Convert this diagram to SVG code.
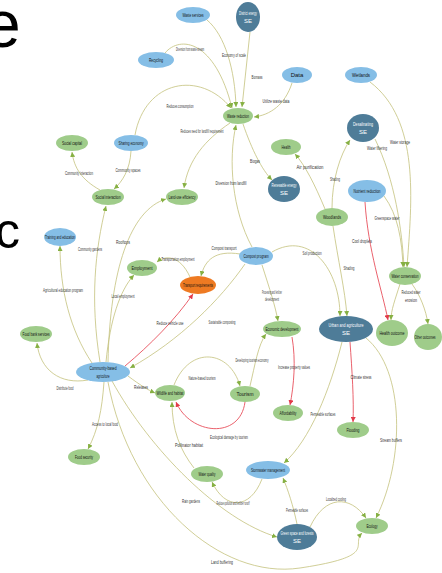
<svg xmlns="http://www.w3.org/2000/svg" width="442" height="573" viewBox="0 0 442 573">
<defs>
<marker id="ag" markerUnits="userSpaceOnUse" markerWidth="5" markerHeight="5" refX="5" refY="2.5" orient="auto"><path d="M0,0 L5,2.5 L0,5 z" fill="#86b043"/></marker>
<marker id="ar" markerUnits="userSpaceOnUse" markerWidth="5" markerHeight="5" refX="5" refY="2.5" orient="auto"><path d="M0,0 L5,2.5 L0,5 z" fill="#e23b4a"/></marker>
<style>
.e{fill:none;stroke:#c4c27c;stroke-width:0.8;marker-end:url(#ag)}
.r{fill:none;stroke:#e8505c;stroke-width:0.9;marker-end:url(#ar)}
.lb{fill:#85bee6}
.gr{fill:#9fcc8a}
.dk{fill:#4e7c98}
.or{fill:#ee7a22}
text{font-family:"Liberation Sans Narrow","Liberation Sans",Arial,sans-serif}
.t{font-size:6px;fill:#111;text-anchor:middle;dominant-baseline:central}
.tw{font-size:6px;fill:#fff;text-anchor:middle;dominant-baseline:central}
.l{font-size:5.5px;fill:#333;text-anchor:middle;dominant-baseline:central}
.big{font-family:"Liberation Sans",Arial,sans-serif;fill:#000}
</style>
</defs>
<rect width="442" height="573" fill="#fff"/>
<text class="big" x="-16" y="47" font-size="66">e</text>
<text class="big" x="-5" y="248" font-size="50">c</text>

<g id="connectors">
<path class="e" d="M165,53 C180,35 215,40 232,108"/>
<path class="e" d="M207,20 C225,35 235,70 236,107"/>
<path class="e" d="M250,32 L242,107"/>
<path class="e" d="M292,83 C285,105 270,115 254,117"/>
<path class="e" d="M135,135 C145,80 200,70 231,108"/>
<path class="e" d="M230,123 C205,140 188,160 184,188"/>
<path class="e" d="M252,247 C232,210 228,160 236,125"/>
<path class="e" d="M243,124 C252,150 262,170 272,180"/>
<path class="e" d="M131,151 C130,170 122,182 114,189"/>
<path class="e" d="M100,190 C82,180 74,168 72,152"/>
<path class="e" d="M100,362 C90,300 95,250 106,206"/>
<path class="e" d="M108,362 C110,270 130,210 166,199"/>
<path class="e" d="M92,363 C70,330 60,290 60,246"/>
<path class="e" d="M106,362 C110,320 120,290 134,275"/>
<path class="e" d="M88,380 C60,385 40,370 37,343"/>
<path class="e" d="M128,376 C140,385 148,390 155,393"/>
<path class="e" d="M104,382 C102,410 98,430 88,449"/>
<path class="r" d="M125,366 C150,345 175,320 193,294"/>
<path class="e" d="M245,264 C220,300 180,340 130,368"/>
<path class="e" d="M240,254 C215,250 205,260 201,276"/>
<path class="e" d="M190,277 C180,255 165,255 157,262"/>
<path class="e" d="M262,265 C270,290 275,305 278,321"/>
<path class="e" d="M272,252 C310,230 340,270 340,316"/>
<path class="e" d="M333,226 C338,260 345,290 347,316"/>
<path class="e" d="M325,209 C315,185 305,165 295,154"/>
<path class="e" d="M332,208 C332,180 340,155 350,140"/>
<path class="e" d="M375,139 C395,180 402,230 404,267"/>
<path class="e" d="M370,82 C420,120 412,200 407,267"/>
<path class="e" d="M384,196 C398,215 402,240 403,267"/>
<path class="r" d="M365,202 C368,250 382,290 388,320"/>
<path class="e" d="M400,284 C395,300 391,310 391,320"/>
<path class="e" d="M412,284 C420,295 426,310 428,324"/>
<path class="e" d="M250,386 C255,365 258,345 266,334"/>
<path class="e" d="M174,385 C190,345 230,350 240,386"/>
<path class="r" d="M245,402 C240,440 190,435 176,402"/>
<path class="r" d="M292,337 C296,360 294,385 290,405"/>
<path class="r" d="M350,342 C352,370 354,400 353,422"/>
<path class="e" d="M342,342 C330,390 310,440 284,463"/>
<path class="e" d="M366,338 C405,370 405,460 376,518"/>
<path class="e" d="M297,524 C293,505 288,490 283,478"/>
<path class="e" d="M310,527 C325,495 350,495 366,518"/>
<path class="e" d="M262,479 C250,510 225,510 212,482"/>
<path class="e" d="M194,468 C180,450 172,430 172,402"/>
<path class="e" d="M112,381 C150,450 220,520 277,537"/>
<path class="e" d="M108,382 C130,500 220,580 300,568 S350,545 362,533"/>
</g>

<g id="edge-labels">
<text class="l" x="190" y="49" textLength="28" lengthAdjust="spacingAndGlyphs">Diversion from waste stream</text>
<text class="l" x="234" y="55" textLength="24" lengthAdjust="spacingAndGlyphs">Economy of scale</text>
<text class="l" x="257" y="77" textLength="11" lengthAdjust="spacingAndGlyphs">Biomass</text>
<text class="l" x="180" y="106" textLength="27" lengthAdjust="spacingAndGlyphs">Reduces consumption</text>
<text class="l" x="276" y="101" textLength="27" lengthAdjust="spacingAndGlyphs">Utilize waste data</text>
<text class="l" x="202" y="131" textLength="43" lengthAdjust="spacingAndGlyphs">Reduces need for landfill requirement</text>
<text class="l" x="400" y="142" textLength="20" lengthAdjust="spacingAndGlyphs">Water storage</text>
<text class="l" x="79" y="173" textLength="28" lengthAdjust="spacingAndGlyphs">Community interaction</text>
<text class="l" x="128" y="170" textLength="25" lengthAdjust="spacingAndGlyphs">Community spaces</text>
<text class="l" x="90" y="249" textLength="24" lengthAdjust="spacingAndGlyphs">Community gardens</text>
<text class="l" x="123" y="242" textLength="14" lengthAdjust="spacingAndGlyphs">Rooftops</text>
<text class="l" x="255" y="161" textLength="10" lengthAdjust="spacingAndGlyphs">Biogas</text>
<text class="l" x="231" y="183" textLength="31" lengthAdjust="spacingAndGlyphs">Diversion from landfill</text>
<text class="l" x="224" y="248" textLength="25" lengthAdjust="spacingAndGlyphs">Compost transport</text>
<text class="l" x="178" y="259" textLength="33" lengthAdjust="spacingAndGlyphs">Transportation employment</text>
<text class="l" x="310" y="167" textLength="27" lengthAdjust="spacingAndGlyphs">Air purification</text>
<text class="l" x="335" y="179" textLength="10" lengthAdjust="spacingAndGlyphs">Shading</text>
<text class="l" x="377" y="148" textLength="20" lengthAdjust="spacingAndGlyphs">Water filtering</text>
<text class="l" x="387" y="218" textLength="25" lengthAdjust="spacingAndGlyphs">Greenspace water</text>
<text class="l" x="362" y="241" textLength="20" lengthAdjust="spacingAndGlyphs">Cool droplets</text>
<text class="l" x="312" y="253" textLength="19" lengthAdjust="spacingAndGlyphs">Soil production</text>
<text class="l" x="349" y="268" textLength="11" lengthAdjust="spacingAndGlyphs">Shading</text>
<text class="l" x="63" y="290" textLength="40" lengthAdjust="spacingAndGlyphs">Agricultural education program</text>
<text class="l" x="123" y="296" textLength="23" lengthAdjust="spacingAndGlyphs">Local employment</text>
<text class="l" x="65" y="388" textLength="17" lengthAdjust="spacingAndGlyphs">Distribute food</text>
<text class="l" x="141" y="387" textLength="14" lengthAdjust="spacingAndGlyphs">Releases</text>
<text class="l" x="105" y="424" textLength="26" lengthAdjust="spacingAndGlyphs">Access to local food</text>
<text class="l" x="170" y="323" textLength="27" lengthAdjust="spacingAndGlyphs">Reduce vehicle use</text>
<text class="l" x="222" y="322" textLength="27" lengthAdjust="spacingAndGlyphs">Sustainable composting</text>
<text class="l" x="272" y="292" textLength="20" lengthAdjust="spacingAndGlyphs">Processing and fertilizer</text>
<text class="l" x="272" y="299" textLength="14" lengthAdjust="spacingAndGlyphs">development</text>
<text class="l" x="252" y="360" textLength="33" lengthAdjust="spacingAndGlyphs">Developing tourism economy</text>
<text class="l" x="202" y="378" textLength="27" lengthAdjust="spacingAndGlyphs">Nature-based tourism</text>
<text class="l" x="294" y="367" textLength="32" lengthAdjust="spacingAndGlyphs">Increase property values</text>
<text class="l" x="411" y="292" textLength="19" lengthAdjust="spacingAndGlyphs">Reduced water</text>
<text class="l" x="411" y="300" textLength="12" lengthAdjust="spacingAndGlyphs">erosion</text>
<text class="l" x="361" y="377" textLength="21" lengthAdjust="spacingAndGlyphs">Climate stress</text>
<text class="l" x="323" y="414" textLength="25" lengthAdjust="spacingAndGlyphs">Permeable surfaces</text>
<text class="l" x="229" y="437" textLength="38" lengthAdjust="spacingAndGlyphs">Ecological damage by tourism</text>
<text class="l" x="189" y="445" textLength="28" lengthAdjust="spacingAndGlyphs">Pollinator habitat</text>
<text class="l" x="191" y="501" textLength="18" lengthAdjust="spacingAndGlyphs">Rain gardens</text>
<text class="l" x="233" y="503" textLength="33" lengthAdjust="spacingAndGlyphs">Reduces pollution and fertilizer runoff</text>
<text class="l" x="297" y="510" textLength="22" lengthAdjust="spacingAndGlyphs">Permeable surfaces</text>
<text class="l" x="222" y="562" textLength="22" lengthAdjust="spacingAndGlyphs">Land buffering</text>
<text class="l" x="391" y="440" textLength="22" lengthAdjust="spacingAndGlyphs">Stream buffers</text>
<text class="l" x="336" y="499" textLength="20" lengthAdjust="spacingAndGlyphs">Localized cooling</text>
</g>

<g id="n_waste_services"><ellipse class="lb" cx="193" cy="15" rx="17" ry="8"/><text class="t" x="193" y="15" textLength="21" lengthAdjust="spacingAndGlyphs">Waste services</text></g>
<g id="n_district"><ellipse class="dk" cx="248" cy="17" rx="12" ry="15"/><text class="tw" x="248" y="13" textLength="18" lengthAdjust="spacingAndGlyphs">District energy</text><text class="tw" x="248" y="21">SE</text></g>
<g id="n_recycling"><ellipse class="lb" cx="156" cy="60" rx="18" ry="8"/><text class="t" x="156" y="60" textLength="14" lengthAdjust="spacingAndGlyphs">Recycling</text></g>
<g id="n_data"><ellipse class="lb" cx="297" cy="75" rx="15" ry="8"/><text class="t" x="297" y="75">Data</text></g>
<g id="n_wetlands"><ellipse class="lb" cx="361" cy="75" rx="16" ry="8"/><text class="t" x="361" y="75" textLength="18" lengthAdjust="spacingAndGlyphs">Wetlands</text></g>
<g id="n_waste_reduction"><ellipse class="gr" cx="238" cy="116" rx="15" ry="8"/><text class="t" x="238" y="116" textLength="22" lengthAdjust="spacingAndGlyphs">Waste reduction</text></g>
<g id="n_desal"><ellipse class="dk" cx="363" cy="128" rx="16" ry="14"/><text class="tw" x="363" y="124" textLength="20" lengthAdjust="spacingAndGlyphs">Desalinating</text><text class="tw" x="363" y="132">SE</text></g>
<g id="n_social_capital"><ellipse class="gr" cx="72" cy="143" rx="16" ry="8"/><text class="t" x="72" y="143" textLength="20" lengthAdjust="spacingAndGlyphs">Social capital</text></g>
<g id="n_sharing"><ellipse class="lb" cx="131" cy="143" rx="17" ry="8"/><text class="t" x="131" y="143" textLength="25" lengthAdjust="spacingAndGlyphs">Sharing economy</text></g>
<g id="n_health"><ellipse class="gr" cx="286" cy="147" rx="15" ry="8"/><text class="t" x="286" y="147" textLength="9" lengthAdjust="spacingAndGlyphs">Health</text></g>
<g id="n_social_interaction"><ellipse class="gr" cx="108" cy="197" rx="16" ry="8"/><text class="t" x="108" y="197" textLength="25" lengthAdjust="spacingAndGlyphs">Social interaction</text></g>
<g id="n_landuse"><ellipse class="gr" cx="182" cy="197" rx="16" ry="8"/><text class="t" x="182" y="197" textLength="27" lengthAdjust="spacingAndGlyphs">Land-use efficiency</text></g>
<g id="n_renewable"><ellipse class="dk" cx="284" cy="189" rx="16" ry="13"/><text class="tw" x="284" y="185" textLength="25" lengthAdjust="spacingAndGlyphs">Renewable energy</text><text class="tw" x="284" y="193">SE</text></g>
<g id="n_nutrient"><ellipse class="lb" cx="367" cy="191" rx="19" ry="11"/><text class="t" x="367" y="191" textLength="27" lengthAdjust="spacingAndGlyphs">Nutrient reduction</text></g>
<g id="n_woodlands"><ellipse class="gr" cx="332" cy="217" rx="16" ry="9"/><text class="t" x="332" y="217" textLength="18" lengthAdjust="spacingAndGlyphs">Woodlands</text></g>
<g id="n_training"><ellipse class="lb" cx="60" cy="237" rx="16" ry="9"/><text class="t" x="60" y="237" textLength="30" lengthAdjust="spacingAndGlyphs">Training and education</text></g>
<g id="n_compost"><ellipse class="lb" cx="256" cy="256" rx="17" ry="9"/><text class="t" x="256" y="256" textLength="25" lengthAdjust="spacingAndGlyphs">Compost program</text></g>
<g id="n_employment"><ellipse class="gr" cx="142" cy="268" rx="15" ry="8"/><text class="t" x="142" y="268" textLength="21" lengthAdjust="spacingAndGlyphs">Employment</text></g>
<g id="n_water_conservation"><ellipse class="gr" cx="405" cy="276" rx="16" ry="9"/><text class="t" x="405" y="276" textLength="27" lengthAdjust="spacingAndGlyphs">Water conservation</text></g>
<g id="n_transport"><ellipse class="or" cx="198" cy="285" rx="18" ry="9"/><text class="t" x="198" y="285" textLength="30" lengthAdjust="spacingAndGlyphs">Transport requirements</text></g>
<g id="n_econ"><ellipse class="gr" cx="282" cy="329" rx="19" ry="8"/><text class="t" x="282" y="329" textLength="33" lengthAdjust="spacingAndGlyphs">Economic development</text></g>
<g id="n_urban"><ellipse class="dk" cx="346" cy="329" rx="27" ry="13"/><text class="tw" x="346" y="325" textLength="35" lengthAdjust="spacingAndGlyphs">Urban and agriculture</text><text class="tw" x="346" y="333">SE</text></g>
<g id="n_health_outcome"><ellipse class="gr" cx="392" cy="333" rx="16" ry="13"/><text class="t" x="392" y="333" textLength="25" lengthAdjust="spacingAndGlyphs">Health outcome</text></g>
<g id="n_other"><ellipse class="gr" cx="428" cy="337" rx="14" ry="13"/><text class="t" x="425" y="337" font-size="5" textLength="21" lengthAdjust="spacingAndGlyphs">Other outcomes</text></g>
<g id="n_foodbank"><ellipse class="gr" cx="36" cy="334" rx="16" ry="8"/><text class="t" x="36" y="334" textLength="27" lengthAdjust="spacingAndGlyphs">Food bank services</text></g>
<g id="n_cba"><ellipse class="lb" cx="103" cy="372" rx="27" ry="10"/><text class="t" x="103" y="368" textLength="27" lengthAdjust="spacingAndGlyphs">Community-based</text><text class="t" x="103" y="376" textLength="13" lengthAdjust="spacingAndGlyphs">agriculture</text></g>
<g id="n_wildlife"><ellipse class="gr" cx="170" cy="393" rx="15" ry="8"/><text class="t" x="170" y="393" textLength="27" lengthAdjust="spacingAndGlyphs">Wildlife and habitat</text></g>
<g id="n_tourism"><ellipse class="gr" cx="245" cy="394" rx="15" ry="8"/><text class="t" x="245" y="394" textLength="17" lengthAdjust="spacingAndGlyphs">Tourism</text></g>
<g id="n_afford"><ellipse class="gr" cx="288" cy="413" rx="15" ry="8"/><text class="t" x="288" y="413" textLength="17" lengthAdjust="spacingAndGlyphs">Affordability</text></g>
<g id="n_flooding"><ellipse class="gr" cx="353" cy="430" rx="16" ry="8"/><text class="t" x="353" y="430" textLength="13" lengthAdjust="spacingAndGlyphs">Flooding</text></g>
<g id="n_foodsec"><ellipse class="gr" cx="84" cy="457" rx="16" ry="8"/><text class="t" x="84" y="457" textLength="18" lengthAdjust="spacingAndGlyphs">Food security</text></g>
<g id="n_stormwater"><ellipse class="lb" cx="268" cy="470" rx="22" ry="9"/><text class="t" x="268" y="470" textLength="34" lengthAdjust="spacingAndGlyphs">Stormwater management</text></g>
<g id="n_waterq"><ellipse class="gr" cx="207" cy="474" rx="16" ry="8"/><text class="t" x="207" y="474" textLength="17" lengthAdjust="spacingAndGlyphs">Water quality</text></g>
<g id="n_ecology"><ellipse class="gr" cx="372" cy="526" rx="16" ry="8"/><text class="t" x="372" y="526" textLength="11" lengthAdjust="spacingAndGlyphs">Ecology</text></g>
<g id="n_greenspace"><ellipse class="dk" cx="297" cy="537" rx="20" ry="13"/><text class="tw" x="297" y="533" textLength="33" lengthAdjust="spacingAndGlyphs">Green space and forests</text><text class="tw" x="297" y="541">SE</text></g>
</svg>
